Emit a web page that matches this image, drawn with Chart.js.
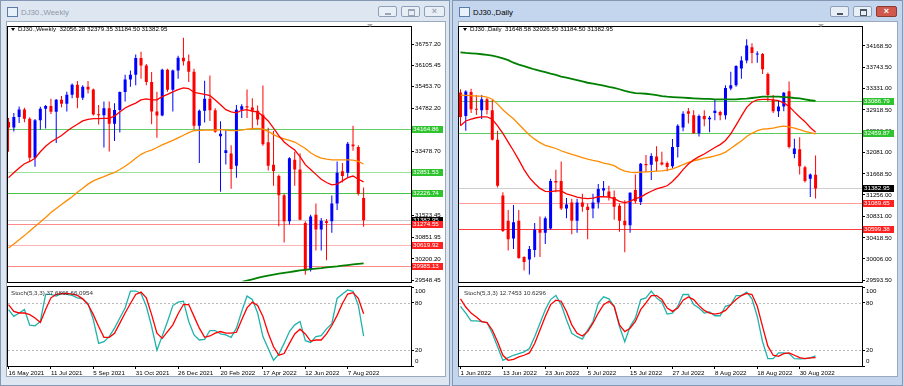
<!DOCTYPE html>
<html>
<head>
<meta charset="utf-8">
<script src="https://cdn.jsdelivr.net/npm/chart.js@4.4.0/dist/chart.umd.min.js"></script>
<style>
  body { margin:0; width:904px; height:386px; background:#c9d8ea; position:relative; overflow:hidden; font-family:"Liberation Sans", Arial, sans-serif; }
  .win { position:absolute; top:0; height:384px; border:1px solid #8598b3; }
  .client { position:absolute; top:21px; height:356px; background:#fff; border:1px solid #9aa9bc; box-sizing:border-box; }
  .ttl { position:absolute; top:8px; font-size:7.8px; }
  .ico { position:absolute; top:7px; width:9px; height:8px; border:1px solid #5c7ca8; background:#e8f0fa; }
  .btn { position:absolute; top:6px; height:11px; border:1px solid #8ea0b8; border-radius:2px; background:#e9eff6; box-sizing:border-box; }
  .btn.x { background:#d0584c; border-color:#8d3a33; color:#fff; font-size:9px; line-height:9px; text-align:center; font-weight:bold; }
  .min { position:absolute; left:6px; top:6px; width:6px; height:2px; background:#4b5563; }
  .max { position:absolute; left:6px; top:2px; width:5px; height:4px; border:1px solid #4b5563; border-top-width:2px; }
  canvas { position:absolute; }
  .hdr { position:absolute; font-size:6.2px; color:#000; white-space:pre; }
  .shd { position:absolute; font-size:6.2px; color:#333; white-space:pre; }
  .tri { position:absolute; width:0; height:0; border-left:2px solid transparent; border-right:2px solid transparent; border-top:3px solid #000; }
  .shift { position:absolute; width:0; height:0; border-left:3px solid transparent; border-right:3px solid transparent; border-top:3px solid #a8a8a8; }
</style>
</head>
<body>
<div class="win" style="left:0;width:448px;background:#dde6f1"></div>
<div class="win" style="left:452px;width:449px;background:#c4d6ed"></div>
<div class="client" style="left:6px;width:440px"></div>
<div class="client" style="left:458px;width:440px"></div>

<div class="ico" style="left:7px"></div>
<div class="ttl" style="left:21px;color:#8e99a8">DJ30.,Weekly</div>
<div class="btn" style="left:378px;width:19px"><div class="min" style="background:#9aa6b5"></div></div>
<div class="btn" style="left:401px;width:19px"><div class="max" style="border-color:#9aa6b5"></div></div>
<div class="btn" style="left:424px;width:21px;background:#e9eff6;border-color:#8ea0b8;color:#9aa6b5;font-size:9px;line-height:9px;text-align:center;font-weight:bold">&times;</div>

<div class="ico" style="left:459px"></div>
<div class="ttl" style="left:473px;color:#000">DJ30.,Daily</div>
<div class="btn" style="left:830px;width:19px"><div class="min"></div></div>
<div class="btn" style="left:853px;width:19px"><div class="max"></div></div>
<div class="btn x" style="left:876px;width:21px">&times;</div>

<canvas id="weeklyMain" width="441" height="264" style="left:7px;top:22px;width:441px;height:264px"></canvas>
<canvas id="weeklyStoch" width="441" height="92" style="left:7px;top:286px;width:441px;height:92px"></canvas>
<canvas id="dailyMain" width="441" height="264" style="left:458px;top:22px;width:441px;height:264px"></canvas>
<canvas id="dailyStoch" width="441" height="92" style="left:458px;top:286px;width:441px;height:92px"></canvas>

<div class="tri" style="left:11px;top:28px"></div>
<div class="hdr" style="left:18px;top:25px">DJ30.,Weekly  32056.28 32379.35 31184.50 31382.95</div>
<div class="shift" style="left:367px;top:24px"></div>
<div class="shd" style="left:11px;top:289px">Stoch(5,3,3) 37.6866 66.0954</div>

<div class="tri" style="left:463px;top:28px"></div>
<div class="hdr" style="left:470px;top:25px">DJ30.,Daily  31648.58 32026.50 31184.50 31382.95</div>
<div class="shift" style="left:818px;top:24px"></div>
<div class="shd" style="left:464px;top:289px">Stoch(5,3,3) 12.7453 10.6296</div>

<script>
// ---- weekly DJ30 ----
var weeklyOpen = [34380,34210,34530,34756,34480,33290,34430,34786,34870,34690,
  35060,34935,35208,35515,35120,35455,35370,34607,34584,34798,
  34326,34746,35295,35677,35820,36328,36100,35601,34700,34580,
  35971,35365,35950,36338,36231,35912,34265,34725,35089,34738,
  33940,33430,33420,33040,34754,34861,34818,34721,34600,33760,
  33076,32730,32140,31350,33224,32928,31298,29865,31545,31100,
  31347,31347,31890,32878,32829,33689,33619,32056.28];
var weeklyHigh = [34500,34650,34850,34810,34520,34470,34840,34900,35090,35080,
  35170,35300,35550,35630,35500,35630,35400,34900,35000,35000,
  34950,35310,35820,35950,36440,36520,36150,35900,35300,36000,
  36000,35980,36400,36952,36440,36000,34760,35640,35800,34800,
  34400,34130,33670,34900,34920,35370,35100,34880,35490,34200,
  34100,32780,32200,33300,33471,33422,31350,31545,31891,31446,
  31420,32137,33175,33125,33768,34262,33669,32379.35];
var weeklyLow = [33470,34090,34350,34370,33180,33010,34150,34180,34620,33740,
  34830,34700,35100,34800,35050,35250,34580,34300,33600,33480,
  33800,34060,35000,35450,35500,35700,35500,34310,33900,34550,
  35300,34700,35700,36100,35600,34160,33130,34360,34410,34050,
  32250,33080,32340,32680,34500,34500,34150,34280,33650,32900,
  32430,31200,30700,31250,32434,31380,29717,29816,30457,30457,
  30161,31001,31693,32533,32681,33501,32137,31184.50];
var weeklyClose = [34210,34530,34756,34480,33290,34430,34786,34870,34690,35060,
  34935,35208,35515,35120,35455,35370,34607,34584,34798,34326,
  34746,35295,35677,35820,36328,36100,35601,34700,34580,35971,
  35365,35950,36338,36231,35912,34265,34725,35089,34738,34079,
  34020,33520,32944,34754,34861,34818,34721,34451,33700,33046,
  32880,32140,31350,33274,32928,31396,29865,31495,31100,31367,
  31298,31890,32829,32730,33718,33639,32187,31382.95];
var weeklyMaFast = [32681,32829,32977,33106,33175,33274,33471,33639,33768,33866,
  33965,34094,34212,34311,34410,34459,34479,34479,34489,34489,
  34558,34686,34805,34884,34953,35052,35082,35052,35052,35151,
  35220,35299,35368,35418,35398,35279,35250,35220,35180,35052,
  34904,34756,34686,34657,34736,34756,34706,34686,34558,34410,
  34192,33965,33768,33639,33521,33323,33076,32928,32780,32631,
  32533,32463,32483,32582,32681,32730,32631,32552];
var weeklyMaSlow = [30537,30655,30784,30912,31051,31189,31327,31466,31614,31742,
  31861,31979,32098,32236,32355,32483,32582,32651,32710,32780,
  32839,32928,33027,33145,33274,33392,33471,33521,33600,33679,
  33748,33817,33896,33975,34054,34113,34123,34133,34133,34133,
  34143,34133,34113,34113,34133,34163,34173,34183,34163,34094,
  33995,33916,33866,33817,33768,33669,33570,33442,33343,33274,
  33244,33224,33224,33224,33224,33214,33175,33096];
var weeklyMaLong = [null,null,null,null,null,null,null,null,null,null,null,
  null,null,null,null,null,null,null,null,null,null,null,
  null,null,null,null,null,null,null,null,null,null,null,
  null,null,null,null,null,null,null,null,null,null,null,
  29500,29540,29580,29620,29660,29695,29725,29750,29775,29800,
  29825,29850,29870,29890,29905,29920,29940,29960,29975,29995,
  30015,30035,30050,30065];
var weeklyStochMain = [71.4,62.8,67.1,71.4,51.7,50.9,56.4,90.6,90.6,88.5,
  91.9,90.6,89.3,86.3,85.0,79.1,58.5,28.6,30.8,37.2,
  47.9,60.7,73.5,94.9,94.9,91.9,75.6,50.0,20.1,38.0,
  56.4,76.5,80.8,82.1,56.4,39.3,32.9,33.8,44.9,44.9,
  40.6,39.3,36.3,47.9,69.2,88.5,84.2,67.1,37.2,22.2,
  7.3,15.0,28.6,43.6,52.1,56.4,32.1,29.9,37.2,38.4,
  47.0,53.5,85.6,91.1,96.3,94.6,77.0,37.7];
var weeklyStochSignal = [77.8,69.2,67.1,67.1,65.0,60.7,55.1,71.4,86.3,90.6,
  91.5,91.9,91.0,89.3,85.0,77.8,65.0,50.0,36.3,36.3,
  41.5,54.3,67.1,79.1,90.6,93.6,86.3,65.0,41.5,35.0,
  43.6,52.1,66.2,77.8,77.8,62.8,47.9,36.3,38.0,41.5,
  43.6,41.5,41.5,42.7,58.5,73.5,80.8,76.5,62.8,41.5,
  24.4,13.7,15.8,28.6,40.6,46.6,40.6,31.6,32.9,32.9,
  40.6,51.3,64.1,79.2,91.1,92.9,85.6,66.1];
var weeklyPriceTicks = [36757.20,36105.45,35453.70,34782.20,34130.45,33478.70,32826.95,32175.20,31523.45,30851.95,30200.20,29548.45];
var weeklyGreenLevels = [34164.86, 32851.53, 32226.74];
var weeklyRedLevels = [31274.55, 30619.92, 29985.13];
var weeklyDates = ['16 May 2021','11 Jul 2021','5 Sep 2021','31 Oct 2021','26 Dec 2021','20 Feb 2022','17 Apr 2022','12 Jun 2022','7 Aug 2022'];
var weeklyDateBars = [0,8,16,24,32,40,48,56,64];

// ---- daily DJ30 ----
var dailyOpen = [33260,32800,33270,32930,32910,33126,32911,32335,31246,30752,
  30404,30752,30043,29993,30182,30581,30518,30600,31531,31531,
  30993,31107,30752,31107,31025,30993,31107,31341,31322,31215,
  31044,30752,30664,31354,31120,31860,31847,32006,31890,31879,
  31816,32195,32575,32892,32816,32461,32797,32734,32860,32879,
  32816,33335,33398,33727,33886,34145,33999,34012,33620,33113,
  32892,32987,33284,32056,32151,31797,31575,31648.58];
var dailyHigh = [33320,33300,33330,33210,33210,33150,33110,32510,31310,30961,
  31060,30961,30060,30260,30710,30835,30835,31575,31750,31910,
  31196,31183,31183,31278,31088,31278,31468,31531,31436,31341,
  31088,31151,31310,31658,31880,32037,32069,32208,32100,31910,
  32350,32638,32890,32955,32910,32830,32910,32800,33113,32900,
  33400,33664,33790,33968,34297,34221,34063,34031,33651,33208,
  33113,33270,33474,32354,32385,31828,31676,32026.50];
var dailyLow = [32610,32510,32860,32820,32740,32830,32320,31400,30530,30170,
  30200,30010,29780,29700,30040,30043,30297,30580,31310,30961,
  30803,30487,30518,30930,30391,30803,30993,31215,31150,30771,
  30537,30138,30518,31088,31060,31700,31550,31721,31830,31720,
  31780,31987,32500,32651,32450,32400,32600,32480,32715,32715,
  32730,33300,33370,33525,33829,33829,33841,33620,33082,32860,
  32778,32892,32164,31974,31658,31499,31214,31184.50];
var dailyClose = [32780,33280,32930,32920,33126,32917,32335,31436,30550,30391,
  30721,30024,29948,30202,30581,30518,30803,31531,31499,30993,
  31069,30752,31107,31025,30961,31107,31373,31385,31215,31025,
  30752,30664,31297,31132,31866,31835,32018,31911,31850,31803,
  32195,32607,32841,32841,32461,32797,32734,32765,32904,32816,
  33348,33398,33778,33886,34177,34031,34012,33715,33208,32892,
  32987,33253,32195,32164,31816,31531,31658,31382.95];
var dailyMaFast = [32607,32702,32740,32765,32784,32784,32734,32607,32461,32290,
  32120,31942,31752,31594,31480,31385,31328,31322,31335,31335,
  31278,31246,31214,31195,31183,31195,31221,31221,31214,31183,
  31132,31107,31132,31183,31214,31278,31328,31373,31404,31436,
  31518,31626,31752,31860,31942,32006,32056,32120,32183,32240,
  32322,32449,32620,32797,32968,33069,33113,33126,33126,33113,
  33101,33056,32987,32879,32778,32689,32575,32480];
var dailyMaSlow = [33208,33202,33196,33189,33189,33170,33126,33031,32923,32828,
  32746,32639,32531,32430,32347,32278,32227,32195,32164,32120,
  32082,32050,32018,31987,31955,31930,31911,31879,31860,31828,
  31765,31721,31702,31695,31702,31708,31714,31721,31727,31740,
  31765,31803,31847,31892,31923,31949,31974,31993,32018,32050,
  32094,32164,32240,32309,32398,32461,32512,32544,32550,32563,
  32588,32601,32588,32563,32531,32499,32474,32449];
var dailyMaLong = [34044,34031,34025,34019,34006,33993,33981,33955,33924,33892,
  33841,33803,33772,33740,33708,33683,33658,33626,33601,33569,
  33550,33525,33499,33474,33449,33430,33411,33392,33367,33348,
  33322,33291,33265,33246,33240,33234,33221,33208,33189,33177,
  33170,33164,33158,33151,33145,33139,33132,33132,33126,33126,
  33126,33126,33126,33132,33139,33151,33164,33177,33177,33177,
  33177,33170,33164,33151,33145,33126,33107,33094];
var dailyStochMain = [75.6,67.0,57.2,57.2,56.3,55.0,41.4,24.3,7.2,10.6,
  13.6,15.7,17.9,22.1,37.1,54.2,71.3,84.1,89.2,77.7,
  58.5,41.4,37.1,34.1,45.6,56.3,79.8,87.5,85.0,75.6,
  49.9,30.7,49.9,60.6,84.1,86.2,94.8,86.2,80.7,65.7,
  67.0,75.6,90.5,90.5,77.7,73.4,67.0,68.3,63.6,63.6,
  75.6,77.7,89.2,89.2,93.5,85.0,62.7,30.7,9.3,9.3,
  16.6,16.6,15.7,9.3,8.9,9.3,10.2,12.7];
var dailyStochSignal = [85.0,74.7,67.0,61.9,56.3,55.0,45.6,30.7,13.6,7.2,
  8.5,11.5,13.6,16.6,28.5,45.6,62.7,77.7,83.3,82.0,
  69.1,52.1,41.4,37.9,43.5,54.2,67.0,77.7,82.0,75.6,
  52.1,43.5,47.8,56.3,71.3,79.8,89.2,89.2,84.1,73.4,
  69.1,73.4,83.3,87.5,84.1,76.4,70.4,67.0,65.7,67.0,
  70.4,77.7,84.1,89.2,91.8,90.5,75.6,49.9,25.1,13.6,
  12.3,15.7,16.6,13.6,10.6,9.3,10.2,10.6];
var dailyPriceTicks = [34168.50,33743.50,33331.00,32918.50,32506.00,32081.00,31668.50,31256.00,30831.00,30418.50,30006.00,29593.50];
var dailyGreenLevels = [33086.79, 32459.87];
var dailyRedLevels = [31089.65, 30599.38];
var dailyDates = ['1 Jun 2022','13 Jun 2022','23 Jun 2022','5 Jul 2022','15 Jul 2022','27 Jul 2022','8 Aug 2022','18 Aug 2022','30 Aug 2022'];
var dailyDateBars = [0,8,16,24,32,40,48,56,64];

var lastPrice = 31382.95;
var stochLevels = [20, 80];
var stochLabels = [100, 80, 20, 0];

var FONT = '"Liberation Sans", Arial, sans-serif';
var FSIZE = 6.2;

function pts(arr) {
    return arr.map(function (v, i) { return { x: i, y: v }; });
}

var framePlugin = {
    id: 'frame',
    afterDraw: function (chart) {
        var a = chart.chartArea, ctx = chart.ctx;
        ctx.save();
        ctx.strokeStyle = '#000';
        ctx.lineWidth = 1;
        ctx.strokeRect(Math.round(a.left) - 0.5, Math.round(a.top) - 0.5,
            Math.round(a.right - a.left) + 1, Math.round(a.bottom - a.top) + 1);
        ctx.restore();
    }
};

// horizontal price levels + the coloured price tags on the right axis
function levelsPlugin(lines) {
    return {
        id: 'levels',
        beforeDatasetsDraw: function (chart) {
            var ctx = chart.ctx, a = chart.chartArea, y = chart.scales.y;
            ctx.save();
            ctx.lineWidth = 1;
            lines.forEach(function (l) {
                var py = Math.round(y.getPixelForValue(l.value)) + 0.5;
                ctx.strokeStyle = l.line;
                ctx.beginPath();
                ctx.moveTo(a.left, py);
                ctx.lineTo(a.right, py);
                ctx.stroke();
            });
            ctx.restore();
        },
        afterDraw: function (chart) {
            var ctx = chart.ctx, a = chart.chartArea, y = chart.scales.y;
            ctx.save();
            ctx.font = FSIZE + 'px ' + FONT;
            ctx.textBaseline = 'middle';
            ctx.textAlign = 'left';
            lines.forEach(function (l) {
                var py = Math.round(y.getPixelForValue(l.value));
                ctx.fillStyle = l.tag;
                ctx.fillRect(Math.round(a.right) + 1, py - 3, 31, 7);
                ctx.fillStyle = '#fff';
                ctx.fillText(l.value.toFixed(2), Math.round(a.right) + 2, py + 0.5);
            });
            ctx.restore();
        }
    };
}

var stochPlugin = {
    id: 'stochLevels',
    beforeDatasetsDraw: function (chart) {
        var ctx = chart.ctx, a = chart.chartArea, y = chart.scales.y;
        ctx.save();
        ctx.strokeStyle = '#b8b8b8';
        ctx.lineWidth = 1;
        ctx.setLineDash([2, 2]);
        stochLevels.forEach(function (v) {
            var py = Math.round(y.getPixelForValue(v)) + 0.5;
            ctx.beginPath();
            ctx.moveTo(a.left, py);
            ctx.lineTo(a.right, py);
            ctx.stroke();
        });
        ctx.restore();
    },
    afterDraw: function (chart) {
        var ctx = chart.ctx, a = chart.chartArea, y = chart.scales.y;
        ctx.save();
        ctx.font = FSIZE + 'px ' + FONT;
        ctx.fillStyle = '#000';
        ctx.textBaseline = 'middle';
        stochLabels.forEach(function (v) {
            var py = y.getPixelForValue(v);
            py = Math.min(Math.max(py, a.top + 4.5), a.bottom - 4.5);
            ctx.fillText(String(v), a.right + 4, py);
        });
        ctx.restore();
    }
};

function mainChart(id, o, h, l, c, fast, slow, long, xr, yr, priceTicks, lines) {
    var bodies = [], wicks = [], colors = [];
    for (var i = 0; i < o.length; i++) {
        bodies.push({ x: i, y: [o[i], c[i]] });
        wicks.push({ x: i, y: [l[i], h[i]] });
        colors.push(c[i] >= o[i] ? '#0000ff' : '#ff0000');
    }
    var ctx = document.getElementById(id).getContext('2d');
    return new Chart(ctx, {
        type: 'line',
        data: {
            datasets: [
                { type: 'line', data: pts(fast), borderColor: '#ff0000', borderWidth: 1.3, order: 0 },
                { type: 'line', data: pts(slow), borderColor: '#ff8c00', borderWidth: 1.3, order: 0 },
                { type: 'line', data: pts(long), borderColor: '#008000', borderWidth: 1.8, order: 0 },
                { type: 'bar', data: bodies, backgroundColor: colors, maxBarThickness: 3, minBarLength: 1, grouped: false, inflateAmount: 0, order: 1 },
                { type: 'bar', data: wicks, backgroundColor: colors, maxBarThickness: 1, grouped: false, inflateAmount: 0, order: 2 }
            ]
        },
        options: {
            responsive: false,
            animation: false,
            devicePixelRatio: 1,
            events: [],
            layout: { padding: { left: 1, top: 1, bottom: 1, right: 0 } },
            elements: { point: { radius: 0 }, line: { tension: 0 } },
            plugins: { legend: { display: false }, tooltip: { enabled: false } },
            scales: {
                x: { type: 'linear', min: xr[0], max: xr[1], offset: false, display: false },
                y: {
                    position: 'right',
                    min: yr[0],
                    max: yr[1],
                    afterFit: function (s) { s.width = 37; },
                    afterBuildTicks: function (s) {
                        s.ticks = priceTicks.map(function (v) { return { value: v }; });
                    },
                    ticks: {
                        autoSkip: false,
                        padding: 1,
                        color: '#000',
                        font: { family: FONT, size: FSIZE },
                        callback: function (v) { return v.toFixed(2); }
                    },
                    grid: { drawOnChartArea: false, drawTicks: true, tickLength: 3, color: '#000' },
                    border: { display: false }
                }
            }
        },
        plugins: [levelsPlugin(lines), framePlugin]
    });
}

function stochChart(id, main, signal, xr, dates, dateBars) {
    var ctx = document.getElementById(id).getContext('2d');
    return new Chart(ctx, {
        type: 'line',
        data: {
            datasets: [
                { data: pts(signal), borderColor: '#ff0000', borderWidth: 1.3, order: 0 },
                { data: pts(main), borderColor: '#20b2aa', borderWidth: 1.3, order: 1 }
            ]
        },
        options: {
            responsive: false,
            animation: false,
            devicePixelRatio: 1,
            events: [],
            layout: { padding: { left: 1, top: 1, bottom: 0, right: 0 } },
            elements: { point: { radius: 0 }, line: { tension: 0 } },
            plugins: { legend: { display: false }, tooltip: { enabled: false } },
            scales: {
                x: {
                    type: 'linear', min: xr[0], max: xr[1], offset: false,
                    afterFit: function (s) { s.height = 12; },
                    afterBuildTicks: function (s) {
                        s.ticks = dateBars.map(function (v) { return { value: v }; });
                    },
                    ticks: {
                        autoSkip: false, maxRotation: 0, align: 'start', padding: 1,
                        color: '#000', font: { family: FONT, size: FSIZE },
                        callback: function (v, i) { return dates[i]; }
                    },
                    grid: { drawOnChartArea: false, drawTicks: true, tickLength: 3, color: '#000' },
                    border: { display: false }
                },
                y: {
                    position: 'right', min: 0, max: 100,
                    afterFit: function (s) { s.width = 37; },
                    afterBuildTicks: function (s) {
                        s.ticks = stochLabels.map(function (v) { return { value: v }; });
                    },
                    ticks: { display: false },
                    grid: { drawOnChartArea: false, drawTicks: true, tickLength: 3, color: '#000' },
                    border: { display: false }
                }
            }
        },
        plugins: [stochPlugin, framePlugin]
    });
}

var weeklyLines = [
    { value: lastPrice, line: '#cfcfcf', tag: '#000' },
    { value: weeklyGreenLevels[0], line: '#66d066', tag: '#2ec42e' },
    { value: weeklyGreenLevels[1], line: '#9be29b', tag: '#2ec42e' },
    { value: weeklyGreenLevels[2], line: '#47c447', tag: '#2ec42e' },
    { value: weeklyRedLevels[0], line: '#ff8a8a', tag: '#ff2020' },
    { value: weeklyRedLevels[1], line: '#ffb4b4', tag: '#ff2020' },
    { value: weeklyRedLevels[2], line: '#ff8a8a', tag: '#ff2020' }
];
var dailyLines = [
    { value: lastPrice, line: '#cfcfcf', tag: '#000' },
    { value: dailyGreenLevels[0], line: '#5ccd5c', tag: '#2ec42e' },
    { value: dailyGreenLevels[1], line: '#5ccd5c', tag: '#2ec42e' },
    { value: dailyRedLevels[0], line: '#ff9c9c', tag: '#ff2020' },
    { value: dailyRedLevels[1], line: '#ff3b3b', tag: '#ff2020' }
];

mainChart('weeklyMain', weeklyOpen, weeklyHigh, weeklyLow, weeklyClose,
    weeklyMaFast, weeklyMaSlow, weeklyMaLong, [-0.1, 75.94], [29519, 37285], weeklyPriceTicks, weeklyLines);
stochChart('weeklyStoch', weeklyStochMain, weeklyStochSignal, [-0.1, 75.94], weeklyDates, weeklyDateBars);

mainChart('dailyMain', dailyOpen, dailyHigh, dailyLow, dailyClose,
    dailyMaFast, dailyMaSlow, dailyMaLong, [-0.28, 75.76], [29569, 34544], dailyPriceTicks, dailyLines);
stochChart('dailyStoch', dailyStochMain, dailyStochSignal, [-0.28, 75.76], dailyDates, dailyDateBars);
</script>
</body>
</html>
